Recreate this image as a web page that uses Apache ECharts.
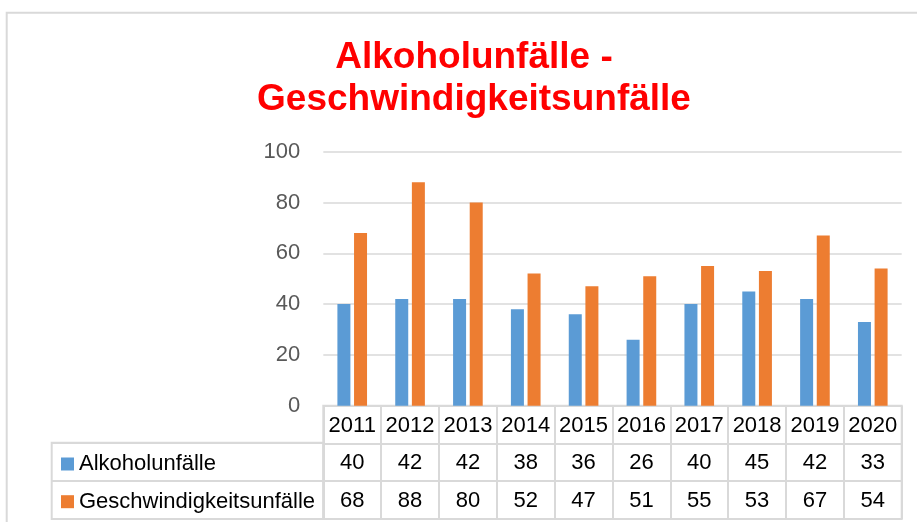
<!DOCTYPE html>
<html>
<head>
<meta charset="utf-8">
<title>Alkoholunfälle - Geschwindigkeitsunfälle</title>
<script src="https://cdn.jsdelivr.net/npm/echarts@6/dist/echarts.min.js"></script>
<style>
  html, body { margin: 0; padding: 0; background: #fff; }
  #chart { width: 917px; height: 522px; }
</style>
</head>
<body>
<div id="chart"></div>
<script>
// Daten
var years = ['2011', '2012', '2013', '2014', '2015', '2016', '2017', '2018', '2019', '2020'];
var alkohol = [40, 42, 42, 38, 36, 26, 40, 45, 42, 33];
var geschwindigkeit = [68, 88, 80, 52, 47, 51, 55, 53, 67, 54];
var seriesNames = ['Alkoholunfälle', 'Geschwindigkeitsunfälle'];
var yTicks = [0, 20, 40, 60, 80, 100];

var blue = '#5B9BD5';
var orange = '#ED7D31';
var lineGray = '#d9d9d9';
var fontName = 'Liberation Sans';

// Tabellenzellen: [Spalte, Zeile] + Text
var cells = [];
var cellTexts = [];
years.forEach(function (y, i) {
  cells.push([i, 0]); cellTexts.push(y);
  cells.push([i, 1]); cellTexts.push(String(alkohol[i]));
  cells.push([i, 2]); cellTexts.push(String(geschwindigkeit[i]));
});

var chart = echarts.init(document.getElementById('chart'));

var plotLeft = 323.3, plotWidth = 578.4;

var option = {
  backgroundColor: '#fff',
  animation: false,
  title: {
    text: 'Alkoholunfälle -\nGeschwindigkeitsunfälle',
    left: 469,
    top: 32,
    textAlign: 'center',
    textStyle: {
      color: '#ff0000',
      fontFamily: fontName,
      fontWeight: 'bold',
      fontSize: 37,
      lineHeight: 42
    }
  },
  legend: {
    data: seriesNames,
    orient: 'vertical',
    left: 56,
    top: 448,
    icon: 'rect',
    itemWidth: 13,
    itemHeight: 13,
    itemGap: 15.7,
    selectedMode: false,
    textStyle: { fontFamily: fontName, fontSize: 22, color: '#000', lineHeight: 22 }
  },
  graphic: [{
    type: 'rect',
    shape: { x: 6.7, y: 12.7, width: 960, height: 560 },
    style: { fill: 'none', stroke: lineGray, lineWidth: 2 },
    silent: true
  }],
  grid: [
    { left: plotLeft, top: 151.7, width: plotWidth, height: 254 },
    { left: plotLeft, top: 405.7, width: plotWidth, height: 113.3, show: true, borderColor: lineGray, borderWidth: 2 },
    { left: 51.7, top: 442.7, width: 271.6, height: 76.3, show: true, borderColor: lineGray, borderWidth: 2 }
  ],
  xAxis: [
    {
      type: 'category', gridIndex: 0, data: years,
      axisLine: { show: false }, axisTick: { show: false }, axisLabel: { show: false }
    },
    {
      type: 'category', gridIndex: 1, data: years,
      axisLine: { show: false }, axisTick: { show: false }, axisLabel: { show: false },
      splitLine: { show: true, interval: 0, lineStyle: { color: lineGray, width: 2 } }
    },
    { type: 'value', gridIndex: 2, show: false }
  ],
  yAxis: [
    {
      type: 'value', gridIndex: 0, min: yTicks[0], max: yTicks[yTicks.length - 1], interval: 20,
      axisLine: { show: false }, axisTick: { show: false },
      axisLabel: { margin: 23, color: '#595959', fontFamily: fontName, fontSize: 22 },
      splitLine: { lineStyle: { color: lineGray, width: 1.5 } }
    },
    {
      type: 'category', gridIndex: 1, data: ['Jahr'].concat(seriesNames), inverse: true,
      axisLine: { show: false }, axisTick: { show: false }, axisLabel: { show: false },
      splitLine: { show: true, interval: 0, lineStyle: { color: lineGray, width: 2 } }
    },
    {
      type: 'category', gridIndex: 2, data: seriesNames, inverse: true,
      axisLine: { show: false }, axisTick: { show: false }, axisLabel: { show: false },
      splitLine: { show: true, interval: 0, lineStyle: { color: lineGray, width: 2 } }
    }
  ],
  series: [
    {
      name: seriesNames[0], type: 'bar', xAxisIndex: 0, yAxisIndex: 0,
      data: alkohol, barWidth: 13, barGap: '28%',
      itemStyle: { color: blue }
    },
    {
      name: seriesNames[1], type: 'bar', xAxisIndex: 0, yAxisIndex: 0,
      data: geschwindigkeit, barWidth: 13, barGap: '28%',
      itemStyle: { color: orange }
    },
    {
      // Datentabelle unter dem Diagramm
      type: 'custom', xAxisIndex: 1, yAxisIndex: 1,
      data: cells,
      silent: true,
      renderItem: function (params, api) {
        var p = api.coord([api.value(0), api.value(1)]);
        return {
          type: 'text',
          x: p[0],
          y: p[1] + 1,
          style: {
            text: cellTexts[params.dataIndex],
            align: 'center',
            verticalAlign: 'middle',
            fontFamily: fontName,
            fontSize: 22,
            fill: '#000'
          }
        };
      }
    }
  ]
};

chart.setOption(option);
</script>
</body>
</html>
